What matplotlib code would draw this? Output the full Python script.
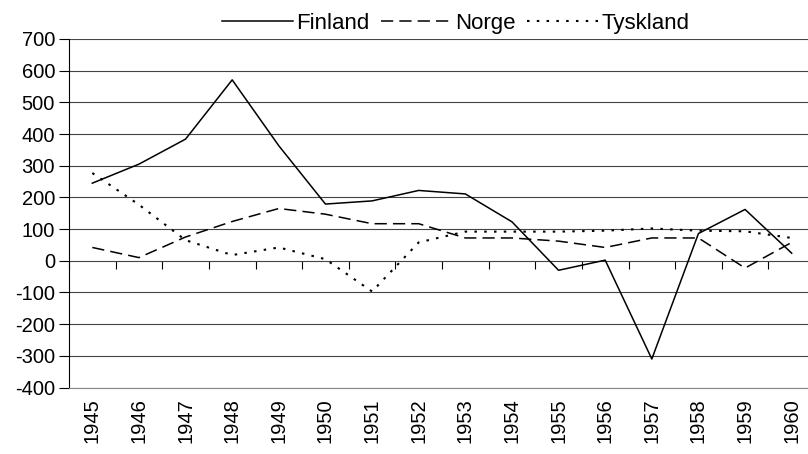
import numpy as np
import matplotlib.pyplot as plt

plt.rcParams['font.family'] = ['Liberation Sans', 'DejaVu Sans']
plt.rcParams['axes.unicode_minus'] = False

# data
years = [str(y) for y in range(1945, 1961)]
finland = [245, 305, 384, 571, 363, 179, 189, 222, 211, 123, -30, 2, -310, 86, 162, 24]
norge = [42, 10, 75, 124, 165, 147, 117, 117, 72, 72, 62, 42, 72, 72, -23, 58]
tyskland = [277, 177, 65, 18, 42, 5, -97, 58, 92, 92, 92, 95, 102, 95, 93, 72]

fig = plt.figure(figsize=(8.08, 4.54), dpi=100)
ax = fig.add_axes([69 / 808, (454 - 387.5) / 454, (815 - 69) / 808, (387.5 - 39) / 454])

x = np.arange(len(years))
ax.plot(x, finland, color='black', lw=1.1, label='Finland')
ax.plot(x, norge, color='black', lw=1.1, dashes=(8, 4), label='Norge')
ax.plot(x, tyskland, color='black', lw=1.5, dashes=(1.2, 3.5), label='Tyskland')

ax.set_xlim(-0.5, len(years) - 0.5)
ax.set_ylim(-400, 700)
ax.set_yticks(np.arange(-400, 701, 100))
ax.yaxis.grid(True, color='#444444', lw=0.8)
ax.set_axisbelow(True)

ax.set_xticks(x)
ax.set_xticklabels(years, rotation=90)
ax.tick_params(axis='x', length=0, pad=8, labelsize=14.5)
ax.tick_params(axis='y', length=7, direction='out', labelsize=14.5, pad=3)

for s in ['top', 'right']:
    ax.spines[s].set_visible(False)
ax.spines['bottom'].set_color('#888888')
ax.spines['left'].set_color('black')

# category axis crosses at zero, ticks between categories
sec = ax.secondary_xaxis(400 / 1100)
sec.set_xticks(np.arange(-0.5, len(years), 1.0))
sec.set_xticklabels([])
sec.tick_params(length=6, direction='out', color='black')
sec.spines['bottom'].set_visible(False)

fig.legend(loc='center', bbox_to_anchor=(0.564, 0.949), ncol=3, frameon=False,
           fontsize=16, handlelength=3.2, handletextpad=0.15, columnspacing=0.5,
           borderpad=0)

fig.savefig('out.png', dpi=100)
